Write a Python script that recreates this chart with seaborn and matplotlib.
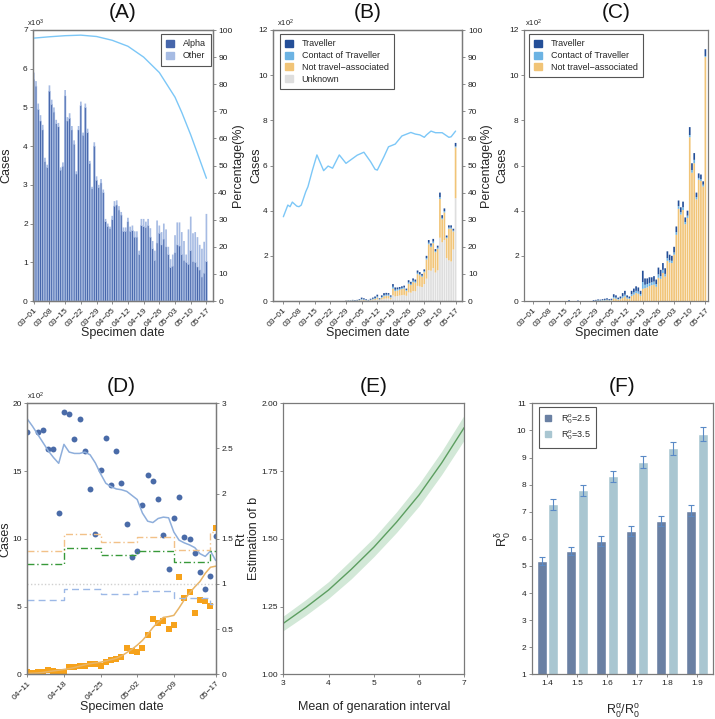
import numpy as np
import pandas as pd
import matplotlib
matplotlib.use('Agg')
import matplotlib.pyplot as plt
import seaborn as sns
from matplotlib.ticker import FuncFormatter, MultipleLocator
from matplotlib.patches import Patch
from matplotlib.lines import Line2D

# ---------------- data ----------------
# Panel A: daily cases (x10^3), 03-01 .. 05-17
a_alpha = [5.72,5.55,4.95,4.65,4.42,3.60,3.45, 5.42,5.08,4.88,4.58,4.50,3.38,3.48,
           5.30,4.65,4.72,4.42,4.05,3.28,4.42, 5.05,4.28,5.00,4.35,3.55,2.90,4.00,
           3.12,2.93,3.05,2.80,2.05,1.93,1.87, 2.10,2.45,2.48,2.35,2.22,1.80,1.80,
           2.05,1.80,1.82,1.65,1.65,1.20,1.95, 1.92,1.90,1.95,1.65,1.35,1.05,1.50,
           1.75,1.45,1.60,1.40,1.20,0.87,0.90, 1.25,1.45,1.42,1.20,1.05,1.00,0.95,
           1.30,1.02,1.00,0.88,0.80,0.62,0.72, 1.02]
a_other = [0.18,0.13,0.15,0.15,0.13,0.10,0.07, 0.15,0.12,0.12,0.10,0.10,0.07,0.10,
           0.15,0.10,0.13,0.10,0.10,0.07,0.10, 0.10,0.07,0.10,0.10,0.07,0.05,0.10,
           0.10,0.07,0.10,0.08,0.07,0.07,0.05, 0.10,0.13,0.12,0.10,0.08,0.10,0.10,
           0.10,0.12,0.13,0.15,0.15,0.10,0.17, 0.20,0.15,0.17,0.23,0.20,0.25,0.58,
           0.20,0.33,0.40,0.45,0.20,0.21,0.30, 0.45,0.58,0.61,0.58,0.50,0.20,0.90,
           0.88,0.73,0.78,0.77,0.65,0.73,0.81, 1.23]
a_pct_day = [0, 7, 14, 21, 28, 35, 42, 49, 56, 63, 66, 70, 73, 77]
a_pct = [97.0, 97.5, 97.9, 98.1, 97.6, 96.2, 94.0, 90.0, 84.3, 75.2, 69.6, 61.3, 54.5, 45.3]

# Panel B: daily cases (x10^2), zeros before 03-29
b_trav = [0]*28 + [0.01,0.01,0.01,0.02,0.02,0.02,0.03, 0.06,0.05,0.03,0.02,0.04,0.05,0.07,
                   0.08,0.04,0.07,0.09,0.08,0.07,0.06, 0.12,0.10,0.08,0.08,0.07,0.08,0.06,
                   0.10,0.09,0.10,0.09,0.10,0.09,0.08, 0.08,0.10,0.12,0.10,0.12,0.09,0.09,
                   0.20,0.12,0.12,0.08,0.10,0.10,0.08, 0.15]
b_cont = [0]*28 + [0.00,0.01,0.01,0.01,0.01,0.01,0.02, 0.03,0.02,0.02,0.01,0.02,0.03,0.04,
                   0.05,0.02,0.04,0.05,0.05,0.05,0.04, 0.08,0.06,0.06,0.05,0.05,0.05,0.04,
                   0.06,0.05,0.06,0.05,0.06,0.05,0.05, 0.05,0.06,0.07,0.06,0.07,0.05,0.05,
                   0.08,0.06,0.06,0.04,0.05,0.05,0.04, 0.05]
b_notr = [0]*28 + [0.01,0.01,0.01,0.01,0.01,0.01,0.02, 0.03,0.03,0.02,0.01,0.02,0.04,0.05,
                   0.08,0.03,0.07,0.11,0.12,0.12,0.08, 0.30,0.24,0.24,0.25,0.27,0.28,0.22,
                   0.38,0.34,0.40,0.38,0.52,0.50,0.45, 0.52,0.85,1.15,1.05,1.10,0.90,0.95,
                   1.72,1.02,1.22,0.88,1.40,1.45,0.80, 2.25]
b_unk = [0]*28 + [0.00,0.00,0.00,0.01,0.00,0.01,0.01, 0.03,0.02,0.01,0.01,0.02,0.03,0.04,
                  0.07,0.03,0.07,0.10,0.11,0.11,0.07, 0.25,0.20,0.22,0.24,0.26,0.27,0.23,
                  0.38,0.37,0.44,0.43,0.67,0.64,0.62, 0.75,0.99,1.36,1.34,1.46,1.26,1.36,
                  2.80,2.60,2.70,1.90,1.80,1.75,2.28, 4.55]
b_pct_day = [0, 2, 3, 4, 6, 7, 8, 10, 11, 13, 15, 18, 20, 22, 25, 28, 31, 33, 36, 39, 41, 42,
             45, 47, 50, 53, 57, 59, 61, 63, 64, 66, 68, 71, 74, 75, 77]
b_pct = [31.1, 35.4, 34.8, 36.5, 35.0, 34.8, 35.4, 40.3, 42.2, 48.3, 53.9, 48.1, 49.8, 49.0,
         53.9, 50.8, 52.6, 53.8, 54.9, 51.4, 48.6, 48.3, 53.3, 56.9, 57.9, 60.9, 62.2, 61.6,
         61.3, 60.4, 61.3, 62.7, 62.1, 62.1, 60.4, 60.6, 62.7]

# Panel C: daily cases (x10^2)
c_trav = [0]*16 + [0.03,0,0,0,0.02,0,0,0,0,0,0] + [0.03,
          0.03,0.04,0.03,0.04,0.05,0.06,0.04, 0.05,0.12,0.10,0.06,0.08,0.14,0.17,
          0.09,0.07,0.15,0.17,0.20,0.18,0.14, 0.50,0.28,0.25,0.25,0.22,0.24,0.20,
          0.30,0.28,0.30,0.25,0.30,0.25,0.22, 0.25,0.25,0.25,0.22,0.25,0.20,0.22,
          0.35,0.30,0.30,0.20,0.20,0.20,0.15, 0.30]
c_cont = [0]*27 + [0.01,
          0.01,0.02,0.02,0.02,0.03,0.03,0.02, 0.02,0.06,0.05,0.03,0.04,0.07,0.08,
          0.05,0.04,0.08,0.10,0.10,0.10,0.08, 0.30,0.15,0.15,0.14,0.13,0.14,0.12,
          0.15,0.12,0.14,0.12,0.12,0.10,0.10, 0.10,0.12,0.12,0.10,0.12,0.10,0.10,
          0.10,0.12,0.15,0.10,0.08,0.08,0.08, 0.05]
c_notr = [0]*27 + [0.00,
          0.01,0.01,0.01,0.02,0.02,0.03,0.02, 0.03,0.12,0.10,0.06,0.08,0.14,0.20,
          0.11,0.09,0.22,0.28,0.35,0.32,0.23, 0.54,0.57,0.60,0.66,0.70,0.72,0.63,
          1.03,0.98,1.24,1.08,1.78,1.70,1.68, 2.05,2.93,4.08,3.83,4.03,3.40,3.68,
          7.25,5.68,6.10,4.50,5.37,5.32,5.07, 10.80]

# Panel D: 04-11 .. 05-17 (x10^2 cases), Rt on right axis
d_blue = [17.9, np.nan, 17.88, 18.03, 16.63, 16.63, 11.93, 19.38, 19.19, 17.34, 18.82, 16.51,
          13.68, 10.36, 15.08, 17.47, 14.0, 16.46, 14.1, 11.07, 8.63, 9.13, 12.5, 14.69, 14.29,
          12.94, 10.28, 7.75, 11.51, 13.11, 10.16, 9.96, 8.93, 7.58, 6.27, 7.26, 10.2]
d_blue_smooth = [18.84, 18.3, 17.7, 17.1, 16.5, 16.0, 15.57, 16.97, 16.4, 16.3, 16.3, 16.4, 16.2,
                 15.6, 14.8, 14.1, 13.85, 13.68, 13.62, 13.5, 13.2, 12.9, 11.9, 11.3, 11.2, 11.5,
                 11.6, 11.55, 10.5, 9.9, 9.7, 9.55, 9.35, 8.9, 8.7, 9.1, 8.4]
d_orange = [0.15, 0.07, 0.15, 0.2, 0.32, 0.25, 0.17, 0.17, 0.57, 0.54, 0.59, 0.64, 0.74, 0.76,
            0.64, 0.91, 1.03, 1.11, 1.28, 1.92, 1.75, 1.62, 1.97, 2.9, 4.08, 3.81, 3.94, 3.32,
            3.62, 7.21, 5.61, 6.1, 4.5, 5.49, 5.41, 5.07, 10.77]
d_orange_smooth = [0.07, 0.08, 0.1, 0.14, 0.2, 0.25, 0.3, 0.36, 0.42, 0.5, 0.6, 0.7, 0.78, 0.84,
                   0.89, 0.98, 1.08, 1.18, 1.35, 1.6, 1.85, 2.15, 2.5, 2.95, 3.45, 3.85, 4.2,
                   4.26, 4.35, 4.9, 5.5, 6.0, 6.45, 6.85, 7.45, 7.9, 7.98]
rt_day = [0, 7, 14, 21, 28, 35, 36]
rt_orange = [1.36, 1.55, 1.47, 1.52, 1.38, 1.57, 1.57]
rt_green = [1.22, 1.395, 1.32, 1.37, 1.245, 1.37, 1.37]
rt_blue = [0.82, 0.945, 0.89, 0.92, 0.84, 0.78, 0.78]

# Panel E
gi_mean = [3, 3.5, 4, 4.5, 5, 5.5, 6, 6.5, 7]
b_est = [1.188, 1.247, 1.311, 1.387, 1.469, 1.561, 1.662, 1.78, 1.911]
b_lo = [1.161, 1.218, 1.280, 1.352, 1.434, 1.523, 1.621, 1.737, 1.865]
b_hi = [1.215, 1.276, 1.342, 1.422, 1.504, 1.599, 1.703, 1.823, 1.957]

# Panel F
ratio_labels = ['1.4', '1.5', '1.6', '1.7', '1.8', '1.9']
r_25 = [5.18, 5.55, 5.92, 6.29, 6.66, 7.04]
r_35 = [7.27, 7.79, 8.31, 8.82, 9.34, 9.86]
err_25 = [0.15, 0.16, 0.17, 0.18, 0.19, 0.20]
err_35 = [0.19, 0.20, 0.21, 0.22, 0.24, 0.25]

# ---------------- style ----------------
sns.set_style('ticks')
plt.rcParams['font.family'] = ['Liberation Sans', 'DejaVu Sans']
plt.rcParams['mathtext.fontset'] = 'custom'
plt.rcParams['mathtext.rm'] = 'Liberation Sans'
plt.rcParams['mathtext.it'] = 'Liberation Sans:italic'
plt.rcParams['mathtext.bf'] = 'Liberation Sans:bold'

SP = '#7a7a7a'
TXT = '#222222'
W, H = 715, 719
fig = plt.figure(figsize=(W/100, H/100), dpi=100)

def rect(l, t, r, b):
    return [l/W, 1-b/H, (r-l)/W, (b-t)/H]

def style(ax, ls=6):
    for s in ax.spines.values():
        s.set_visible(True)
        s.set_color(SP)
        s.set_linewidth(0.9)
    ax.tick_params(direction='out', length=2.5, width=0.6, color=SP,
                   labelsize=ls, labelcolor=TXT, pad=1.5)

def leg(ax, handles, labels, anchor, loc='upper left', fs=6.5, **kw):
    lg = ax.legend(handles, labels, loc=loc, bbox_to_anchor=anchor, borderaxespad=0,
                   fontsize=fs, frameon=True, fancybox=False, framealpha=1,
                   edgecolor='#555555', handlelength=0.8, handleheight=0.8,
                   handletextpad=1.0, borderpad=0.6, labelspacing=0.3, **kw)
    lg.get_frame().set_linewidth(0.8)
    return lg

MINUS = '\u2212'
dates_abc = pd.date_range('2021-03-01', '2021-05-17')
days = np.arange(len(dates_abc))
tick_days = days[::7]
tick_labels = [d.strftime('%m-%d').replace('-', MINUS) for d in dates_abc[::7]]

def date_axis(ax, tdays, tlabels):
    ax.set_xticks(tdays)
    ax.set_xticklabels(tlabels, rotation=45, ha='right', rotation_mode='anchor', fontsize=5.5)

def title(ax, s, yc):
    bb = ax.get_position()
    fig.text((bb.x0+bb.x1)/2, 1-yc/H, s, ha='center', va='center', fontsize=15, color='#111111')

def bars(ax, x, h, bottom, color, **kw):
    kw.setdefault('linewidth', 0)
    ax.bar(x, h, bottom=bottom, width=0.75, color=color, snap=False, **kw)

# colours
k_alpha, k_oth = '#4666ab', '#a6bbe3'
k_trav, k_cont, k_notr, k_unk = '#244f98', '#6cb3e3', '#f1c477', '#dedede'
k_line = '#7cc7f7'

# ---------------- Panel A ----------------
axA = fig.add_axes(rect(33.3, 30, 212.7, 301))
bars(axA, days, a_alpha, 0, k_alpha, edgecolor=k_oth, linewidth=0.45)
bars(axA, days, a_other, a_alpha, k_oth)
axA.set_xlim(-0.2, 79.8)
axA.set_ylim(0, 7)
axA.yaxis.set_major_locator(MultipleLocator(1))
date_axis(axA, tick_days, tick_labels)
axA2 = axA.twinx()
sns.lineplot(x=a_pct_day, y=a_pct, ax=axA2, color=k_line, linewidth=1.0)
axA2.set_ylim(0, 100)
axA2.yaxis.set_major_locator(MultipleLocator(10))
style(axA); style(axA2)
axA.set_ylabel('Cases', fontsize=9)
axA.yaxis.set_label_coords(-0.119, 0.5)
axA2.set_ylabel('Percentage(%)', fontsize=9)
axA2.yaxis.set_label_coords(1.105, 0.5)
axA.set_xlabel('Specimen date', fontsize=9)
axA.xaxis.set_label_coords(0.5, -0.095)
axA.text(-0.035, 1.004, r'x10$^{3}$', transform=axA.transAxes, fontsize=5.5, ha='left', va='bottom', color=TXT)
leg(axA2, [Patch(color=k_alpha), Patch(color=k_oth)], ['Alpha', 'Other'],
    (0.9906, 0.985), loc='upper right')
title(axA, '(A)', 12)

# ---------------- Panel B ----------------
axB = fig.add_axes(rect(273.3, 30, 462.3, 301))
bu = np.array(b_unk); bn = np.array(b_notr); bc = np.array(b_cont); bt = np.array(b_trav)
bars(axB, days, bu, 0, k_unk)
bars(axB, days, bn, bu, k_notr)
bars(axB, days, bc, bu+bn, k_cont)
bars(axB, days, bt, bu+bn+bc, k_trav)
axB.set_xlim(-4.5, 80)
axB.set_ylim(0, 12)
axB.yaxis.set_major_locator(MultipleLocator(2))
date_axis(axB, tick_days, tick_labels)
axB2 = axB.twinx()
sns.lineplot(x=b_pct_day, y=b_pct, ax=axB2, color=k_line, linewidth=1.0)
axB2.set_ylim(0, 100)
axB2.yaxis.set_major_locator(MultipleLocator(10))
style(axB); style(axB2)
axB.set_ylabel('Cases', fontsize=9)
axB.yaxis.set_label_coords(-0.06, 0.5)
axB2.set_ylabel('Percentage(%)', fontsize=9)
axB2.yaxis.set_label_coords(1.094, 0.5)
axB.set_xlabel('Specimen date', fontsize=9)
axB.xaxis.set_label_coords(0.5, -0.095)
axB.text(0.02, 1.004, r'x10$^{2}$', transform=axB.transAxes, fontsize=5.5, ha='left', va='bottom', color=TXT)
leg(axB2, [Patch(color=k_trav), Patch(color=k_cont), Patch(color=k_notr), Patch(color=k_unk)],
    ['Traveller', 'Contact of Traveller', 'Not travel' + MINUS + 'associated', 'Unknown'],
    (0.0354, 0.985))
title(axB, '(B)', 12)

# ---------------- Panel C ----------------
axC = fig.add_axes(rect(524.3, 30, 708.3, 301))
cn = np.array(c_notr); cc = np.array(c_cont); ct = np.array(c_trav)
bars(axC, days, cn, 0, k_notr)
bars(axC, days, cc, cn, k_cont)
bars(axC, days, ct, cn+cc, k_trav)
axC.set_xlim(-4.0, 78.3)
axC.set_ylim(0, 12)
axC.yaxis.set_major_locator(MultipleLocator(2))
date_axis(axC, tick_days, tick_labels)
style(axC)
axC.set_ylabel('Cases', fontsize=9)
axC.yaxis.set_label_coords(-0.089, 0.5)
axC.set_xlabel('Specimen date', fontsize=9)
axC.xaxis.set_label_coords(0.5, -0.095)
axC.text(0.005, 1.004, r'x10$^{2}$', transform=axC.transAxes, fontsize=5.5, ha='left', va='bottom', color=TXT)
leg(axC, [Patch(color=k_trav), Patch(color=k_cont), Patch(color=k_notr)],
    ['Traveller', 'Contact of Traveller', 'Not travel' + MINUS + 'associated'],
    (0.0255, 0.985))
title(axC, '(C)', 12)

# ---------------- Panel D ----------------
axD = fig.add_axes(rect(27.3, 403.3, 215.7, 674.3))
dates_d = pd.date_range('2021-04-11', '2021-05-17')
dd = np.arange(len(dates_d))
sns.lineplot(x=dd, y=d_blue_smooth, ax=axD, color='#8eaedb', linewidth=1.1)
sns.lineplot(x=dd, y=d_orange_smooth, ax=axD, color='#e8b466', linewidth=1.1)
sns.scatterplot(x=dd, y=d_blue, ax=axD, color='#4a6ba8', s=18, linewidth=0, marker='o')
sns.scatterplot(x=dd, y=d_orange, ax=axD, color='#f6a21b', s=14, linewidth=0, marker='s')
axD.set_xlim(0, 36)
axD.set_ylim(0, 20)
axD.yaxis.set_major_locator(MultipleLocator(5))
d_ticks = [0, 7, 14, 21, 28, 36]
date_axis(axD, d_ticks, [dates_d[i].strftime('%m-%d').replace('-', MINUS) for i in d_ticks])
axD2 = axD.twinx()
axD2.axhline(1.0, color='#d0d0d0', linestyle=(0, (1, 1.5)), linewidth=1.0)
axD2.step(rt_day, rt_orange, where='post', color='#f2c188', linewidth=1.0, linestyle=(0, (5, 2, 1, 2)))
axD2.step(rt_day, rt_green, where='post', color='#38993a', linewidth=1.0, linestyle=(0, (5, 2, 1, 2)))
axD2.step(rt_day, rt_blue, where='post', color='#9cb8e6', linewidth=1.0, linestyle=(0, (5, 3)))
axD2.set_ylim(0, 3)
axD2.yaxis.set_major_locator(MultipleLocator(0.5))
axD2.yaxis.set_major_formatter(FuncFormatter(lambda v, p: f'{v:g}'))
style(axD); style(axD2)
axD.set_ylabel('Cases', fontsize=9)
axD.yaxis.set_label_coords(-0.083, 0.5)
axD2.set_ylabel('Rt', fontsize=9)
axD2.yaxis.set_label_coords(1.10, 0.5)
axD.set_xlabel('Specimen date', fontsize=9)
axD.xaxis.set_label_coords(0.5, -0.1)
axD.text(0.0, 1.004, r'x10$^{2}$', transform=axD.transAxes, fontsize=5.5, ha='left', va='bottom', color=TXT)
title(axD, '(D)', 386)

# ---------------- Panel E ----------------
axE = fig.add_axes(rect(283.3, 403.3, 464.3, 674.3))
axE.fill_between(gi_mean, b_lo, b_hi, color='#d2e8d7', linewidth=0)
sns.lineplot(x=gi_mean, y=b_est, ax=axE, color='#5c9e60', linewidth=1.0)
axE.set_xlim(3, 7)
axE.set_ylim(1, 2)
axE.yaxis.set_major_locator(MultipleLocator(0.25))
axE.yaxis.set_major_formatter(FuncFormatter(lambda v, p: f'{v:.2f}'))
axE.xaxis.set_major_locator(MultipleLocator(1))
style(axE)
axE.set_ylabel('Estimation of b', fontsize=9)
axE.yaxis.set_label_coords(-0.128, 0.5)
axE.set_xlabel('Mean of genaration interval', fontsize=9)
axE.xaxis.set_label_coords(0.5, -0.1)
title(axE, '(E)', 386)

# ---------------- Panel F ----------------
axF = fig.add_axes(rect(531.7, 403.3, 713.3, 674.3))
k25, k35 = '#6a80a3', '#a9c6d1'
df_f = pd.DataFrame({'ratio': ratio_labels*2, 'R0': r_25 + r_35,
                     'group': ['2.5']*6 + ['3.5']*6})
sns.barplot(data=df_f, x='ratio', y='R0', hue='group', palette=[k25, k35], errorbar=None,
            width=0.76, gap=0.12, saturation=1, ax=axF, legend=False)
for cont, errs in zip(axF.containers, [err_25, err_35]):
    xs = [b.get_x() + b.get_width()/2 for b in cont]
    ys = [b.get_height() for b in cont]
    axF.errorbar(xs, ys, yerr=errs, fmt='none', ecolor='#5a8ac6', elinewidth=0.8,
                 capsize=2.2, capthick=0.8)
axF.set_ylim(1, 11)
axF.set_xlim(-0.52, 5.55)
axF.yaxis.set_major_locator(MultipleLocator(1))
style(axF)
axF.set_ylabel(r'$\mathregular{R_0^\delta}$', fontsize=9)
axF.yaxis.set_label_coords(-0.1, 0.5)
axF.set_xlabel(r'$\mathregular{R_0^\alpha/R_0^o}$', fontsize=9)
axF.xaxis.set_label_coords(0.5, -0.105)
hF = [Line2D([], [], marker='s', linestyle='', color=k25, markersize=4),
      Line2D([], [], marker='s', linestyle='', color=k35, markersize=4)]
leg(axF, hF, [r'$\mathregular{R_0^o}$=2.5', r'$\mathregular{R_0^o}$=3.5'], (0.04, 0.986))
title(axF, '(F)', 386)

fig.savefig('out.png', dpi=100)
